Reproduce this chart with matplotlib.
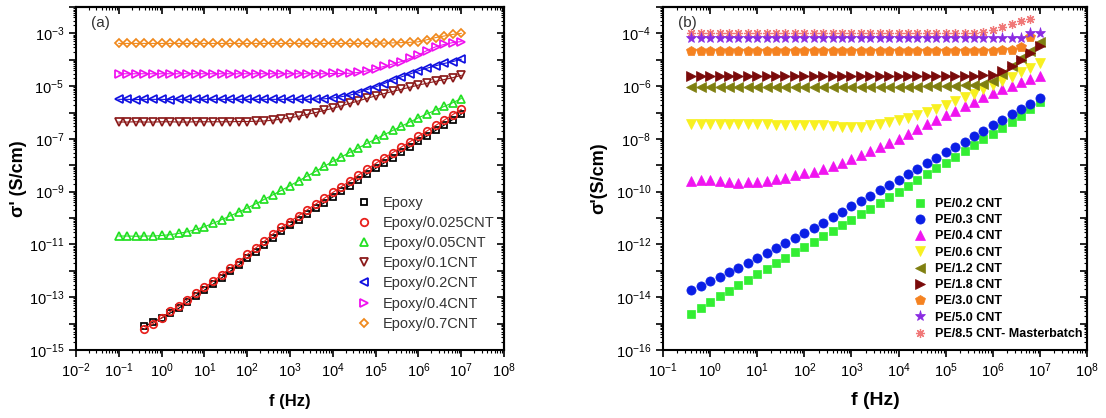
import matplotlib
matplotlib.use("Agg")
import matplotlib.pyplot as plt
from matplotlib.ticker import FixedLocator, FuncFormatter, LogLocator, NullFormatter
from matplotlib.lines import Line2D
import numpy as np

plt.rcParams['font.family'] = ['Liberation Sans', 'DejaVu Sans']
plt.rcParams['mathtext.fontset'] = 'custom'
plt.rcParams['mathtext.rm'] = 'Liberation Sans'
plt.rcParams['mathtext.default'] = 'regular'
plt.rcParams['axes.unicode_minus'] = False

# ---- panel (a): epoxy / CNT, log10 values ----
fa_log = [-1.0, -0.8, -0.6, -0.4, -0.2, 0.0, 0.2, 0.4, 0.6, 0.8,
          1.0, 1.2, 1.4, 1.6, 1.8, 2.0, 2.2, 2.4, 2.6, 2.8,
          3.0, 3.2, 3.4, 3.6, 3.8, 4.0, 4.2, 4.4, 4.6, 4.8,
          5.0, 5.2, 5.4, 5.6, 5.8, 6.0, 6.2, 6.4, 6.6, 6.8, 7.0]
fa_short_log = fa_log[3:]   # epoxy and 0.025CNT start at ~0.4 Hz

epoxy = [-14.10, -13.94, -13.79, -13.60, -13.42, -13.19, -12.95, -12.73, -12.51, -12.27,
         -12.02, -11.78, -11.51, -11.27, -11.02, -10.75, -10.50, -10.28, -10.07, -9.85,
         -9.63, -9.42, -9.20, -8.98, -8.77, -8.55, -8.34, -8.12, -7.91, -7.71,
         -7.50, -7.30, -7.09, -6.89, -6.68, -6.48, -6.27, -6.07]
ep_0025 = [-14.19, -14.00, -13.78, -13.54, -13.34, -13.10, -12.85, -12.63, -12.40, -12.15,
           -11.90, -11.66, -11.38, -11.13, -10.88, -10.60, -10.35, -10.13, -9.91, -9.69,
           -9.47, -9.25, -9.03, -8.81, -8.59, -8.37, -8.15, -7.93, -7.72, -7.52,
           -7.31, -7.11, -6.90, -6.70, -6.49, -6.29, -6.08, -5.88]
ep_005 = [-10.68, -10.68, -10.69, -10.68, -10.68, -10.66, -10.63, -10.58, -10.52, -10.43,
          -10.33, -10.20, -10.06, -9.92, -9.77, -9.62, -9.46, -9.29, -9.12, -8.95,
          -8.77, -8.59, -8.41, -8.23, -8.04, -7.85, -7.68, -7.51, -7.34, -7.17,
          -7.00, -6.84, -6.68, -6.52, -6.36, -6.20, -6.05, -5.91, -5.77, -5.63, -5.47]
ep_01 = [-6.36, -6.36, -6.35, -6.36, -6.36, -6.35, -6.35, -6.36, -6.36, -6.35,
         -6.35, -6.35, -6.35, -6.35, -6.34, -6.34, -6.33, -6.32, -6.29, -6.25,
         -6.20, -6.14, -6.07, -6.00, -5.92, -5.84, -5.75, -5.65, -5.56, -5.46,
         -5.37, -5.28, -5.20, -5.12, -5.04, -4.96, -4.89, -4.82, -4.75, -4.68, -4.59]
ep_02 = [-5.50, -5.50, -5.51, -5.50, -5.50, -5.50, -5.51, -5.50, -5.50, -5.50,
         -5.50, -5.50, -5.50, -5.50, -5.50, -5.50, -5.50, -5.50, -5.50, -5.50,
         -5.50, -5.50, -5.50, -5.49, -5.48, -5.45, -5.40, -5.34, -5.25, -5.13,
         -5.03, -4.90, -4.77, -4.65, -4.54, -4.42, -4.32, -4.23, -4.14, -4.07, -3.98]
ep_04 = [-4.53, -4.53, -4.53, -4.53, -4.53, -4.53, -4.53, -4.53, -4.53, -4.53,
         -4.53, -4.53, -4.53, -4.53, -4.53, -4.53, -4.53, -4.53, -4.53, -4.53,
         -4.53, -4.53, -4.53, -4.53, -4.53, -4.52, -4.52, -4.51, -4.48, -4.42,
         -4.34, -4.25, -4.16, -4.07, -3.95, -3.82, -3.65, -3.51, -3.42, -3.35, -3.31]
ep_07 = [-3.38, -3.38, -3.38, -3.38, -3.38, -3.38, -3.38, -3.38, -3.38, -3.38,
         -3.38, -3.38, -3.38, -3.38, -3.38, -3.38, -3.38, -3.38, -3.38, -3.38,
         -3.38, -3.38, -3.38, -3.38, -3.38, -3.38, -3.38, -3.38, -3.38, -3.38,
         -3.37, -3.37, -3.36, -3.35, -3.34, -3.32, -3.24, -3.16, -3.10, -3.04, -3.00]

# ---- panel (b): PE / CNT ----
fb_log = [-0.4, -0.2, 0.0, 0.2, 0.4, 0.6, 0.8, 1.0, 1.2, 1.4,
          1.6, 1.8, 2.0, 2.2, 2.4, 2.6, 2.8, 3.0, 3.2, 3.4,
          3.6, 3.8, 4.0, 4.2, 4.4, 4.6, 4.8, 5.0, 5.2, 5.4,
          5.6, 5.8, 6.0, 6.2, 6.4, 6.6, 6.8, 7.0]

pe_02 = [-14.65, -14.40, -14.19, -13.97, -13.76, -13.55, -13.34, -13.13, -12.93, -12.72,
         -12.51, -12.30, -12.10, -11.90, -11.69, -11.48, -11.28, -11.07, -10.86, -10.64,
         -10.43, -10.21, -10.00, -9.78, -9.56, -9.34, -9.12, -8.90, -8.68, -8.46,
         -8.24, -8.02, -7.80, -7.57, -7.35, -7.12, -6.88, -6.60]
pe_03 = [-13.73, -13.58, -13.40, -13.24, -13.06, -12.88, -12.69, -12.50, -12.31, -12.13,
         -11.94, -11.75, -11.56, -11.36, -11.17, -10.97, -10.77, -10.56, -10.36, -10.15,
         -9.95, -9.74, -9.54, -9.33, -9.13, -8.92, -8.72, -8.51, -8.31, -8.10,
         -7.90, -7.69, -7.48, -7.27, -7.06, -6.85, -6.66, -6.44]
pe_04 = [-9.60, -9.57, -9.57, -9.60, -9.63, -9.66, -9.65, -9.63, -9.58, -9.53,
         -9.47, -9.38, -9.31, -9.24, -9.15, -9.03, -8.92, -8.76, -8.60, -8.44,
         -8.29, -8.14, -7.99, -7.81, -7.63, -7.45, -7.27, -7.10, -6.93, -6.76,
         -6.59, -6.42, -6.25, -6.11, -5.98, -5.85, -5.73, -5.60]
pe_06 = [-7.42, -7.44, -7.45, -7.45, -7.45, -7.45, -7.45, -7.45, -7.45, -7.46,
         -7.46, -7.46, -7.46, -7.47, -7.48, -7.50, -7.53, -7.55, -7.53, -7.49,
         -7.43, -7.36, -7.28, -7.19, -7.09, -6.97, -6.85, -6.72, -6.58, -6.43,
         -6.28, -6.12, -5.96, -5.80, -5.64, -5.47, -5.30, -5.13]
pe_12 = [-6.03, -6.03, -6.03, -6.03, -6.03, -6.03, -6.03, -6.03, -6.03, -6.03,
         -6.03, -6.03, -6.03, -6.03, -6.03, -6.03, -6.03, -6.03, -6.03, -6.03,
         -6.03, -6.03, -6.02, -6.02, -6.02, -6.01, -6.00, -5.99, -5.98, -5.96,
         -5.95, -5.93, -5.80, -5.55, -5.25, -4.95, -4.65, -4.32]
pe_18 = [-5.60, -5.60, -5.60, -5.60, -5.60, -5.60, -5.60, -5.60, -5.60, -5.60,
         -5.60, -5.60, -5.60, -5.60, -5.60, -5.60, -5.60, -5.60, -5.60, -5.60,
         -5.60, -5.60, -5.60, -5.60, -5.60, -5.60, -5.60, -5.60, -5.60, -5.60,
         -5.60, -5.59, -5.56, -5.44, -5.25, -5.02, -4.76, -4.46]
pe_30 = [-4.65, -4.65, -4.65, -4.65, -4.65, -4.65, -4.65, -4.65, -4.65, -4.65,
         -4.65, -4.65, -4.65, -4.65, -4.65, -4.65, -4.65, -4.65, -4.65, -4.65,
         -4.65, -4.65, -4.65, -4.65, -4.65, -4.65, -4.65, -4.65, -4.65, -4.65,
         -4.65, -4.65, -4.65, -4.64, -4.62, -4.52, -4.13]
pe_50 = [-4.19, -4.19, -4.19, -4.19, -4.19, -4.19, -4.19, -4.19, -4.19, -4.19,
         -4.19, -4.19, -4.19, -4.19, -4.19, -4.19, -4.19, -4.19, -4.19, -4.19,
         -4.19, -4.19, -4.19, -4.19, -4.19, -4.19, -4.19, -4.19, -4.19, -4.19,
         -4.19, -4.19, -4.19, -4.19, -4.19, -4.18, -4.00, -3.99]
pe_85 = [-4.00, -4.00, -4.00, -4.00, -4.00, -4.00, -4.00, -4.00, -4.00, -4.00,
         -4.00, -4.00, -4.00, -4.00, -4.00, -4.00, -4.00, -4.00, -4.00, -4.00,
         -4.00, -4.00, -4.00, -4.00, -4.00, -4.00, -4.00, -4.00, -4.00, -4.00,
         -3.98, -3.95, -3.88, -3.76, -3.63, -3.53, -3.45]

labels_a = ['Epoxy', 'Epoxy/0.025CNT', 'Epoxy/0.05CNT', 'Epoxy/0.1CNT',
            'Epoxy/0.2CNT', 'Epoxy/0.4CNT', 'Epoxy/0.7CNT']
labels_b = ['PE/0.2 CNT', 'PE/0.3 CNT', 'PE/0.4 CNT', 'PE/0.6 CNT', 'PE/1.2 CNT',
            'PE/1.8 CNT', 'PE/3.0 CNT', 'PE/5.0 CNT', 'PE/8.5 CNT- Masterbatch']


def log_axis(ax, xdec, ydec, ylab_odd):
    ax.set_xscale('log')
    ax.set_yscale('log')
    ax.set_xlim(10.0 ** xdec[0], 10.0 ** xdec[1])
    ax.set_ylim(10.0 ** ydec[0], 10.0 ** ydec[1])
    xt = [10.0 ** k for k in range(xdec[0], xdec[1] + 1)]
    yt = [10.0 ** k for k in range(ydec[0], ydec[1] + 1)]
    ax.xaxis.set_major_locator(FixedLocator(xt))
    ax.yaxis.set_major_locator(FixedLocator(yt))
    ax.xaxis.set_minor_locator(LogLocator(base=10, subs=np.arange(2, 10), numticks=100))
    ax.yaxis.set_minor_locator(LogLocator(base=10, subs=np.arange(2, 10), numticks=100))
    ax.xaxis.set_minor_formatter(NullFormatter())
    ax.yaxis.set_minor_formatter(NullFormatter())

    def xfmt(v, pos):
        k = int(round(np.log10(v)))
        return '$\\mathdefault{10^{%d}}$' % k

    def yfmt(v, pos):
        k = int(round(np.log10(v)))
        if (k % 2 != 0) == ylab_odd:
            return '$\\mathdefault{10^{%d}}$' % k
        return ''
    ax.xaxis.set_major_formatter(FuncFormatter(xfmt))
    ax.yaxis.set_major_formatter(FuncFormatter(yfmt))
    ax.tick_params(which='major', direction='out', length=5, width=1.2, labelsize=10.5)
    ax.tick_params(which='minor', direction='out', length=2.5, width=0.8)
    for s in ax.spines.values():
        s.set_linewidth(1.5)
    # inward ticks on top and right
    top = ax.secondary_xaxis('top')
    top.xaxis.set_major_locator(FixedLocator(xt))
    top.xaxis.set_minor_locator(LogLocator(base=10, subs=np.arange(2, 10), numticks=100))
    top.tick_params(which='major', direction='in', length=5, width=1.2, labeltop=False)
    top.tick_params(which='minor', direction='in', length=2.5, width=0.8)
    right = ax.secondary_yaxis('right')
    right.yaxis.set_major_locator(FixedLocator(yt))
    right.yaxis.set_minor_locator(LogLocator(base=10, subs=np.arange(2, 10), numticks=100))
    right.tick_params(which='major', direction='in', length=5, width=1.2, labelright=False)
    right.tick_params(which='minor', direction='in', length=2.5, width=0.8)
    for sec in (top, right):
        for s in sec.spines.values():
            s.set_linewidth(1.5)


fig = plt.figure(figsize=(11.06, 4.18), dpi=100)
ax1 = fig.add_axes([76 / 1106, 68 / 418, 428 / 1106, 343 / 418])
ax2 = fig.add_axes([663 / 1106, 68 / 418, 424 / 1106, 343 / 418])

# ---- (a) ----
fa = [10.0 ** v for v in fa_log]
fa_s = [10.0 ** v for v in fa_short_log]
series_a = [
    (fa_s, epoxy, 's', 'black', 4.5),
    (fa_s, ep_0025, 'o', '#e8201c', 5.4),
    (fa, ep_005, '^', '#22e022', 5.8),
    (fa, ep_01, 'v', '#8b1a1a', 5.8),
    (fa, ep_02, '<', '#1010e0', 5.8),
    (fa, ep_04, '>', '#f010f0', 5.8),
    (fa, ep_07, 'D', '#f0891c', 4.3),
]
handles_a = []
for (x, y, m, c, ms), lab in zip(series_a, labels_a):
    ax1.plot(x, [10.0 ** v for v in y], color=c, lw=0.8, marker=m, ms=ms,
             mfc='none', mec=c, mew=1.25)
    handles_a.append(Line2D([], [], ls='none', marker=m, ms=ms, mfc='none', mec=c, mew=1.3))

log_axis(ax1, (-2, 8), (-15, -2), True)
ax1.set_xlabel('f (Hz)', fontsize=12, fontweight='bold', labelpad=10)
ax1.set_ylabel("σ' (S/cm)", fontsize=13, fontweight='bold', labelpad=1)
ax1.text(0.035, 0.975, '(a)', transform=ax1.transAxes, fontsize=11, va='top', ha='left',
         color='#333333')
ax1.legend(handles_a, labels_a, loc='upper left', bbox_to_anchor=(357 / 1106, 1 - 196 / 418),
           bbox_transform=fig.transFigure, frameon=False, fontsize=10.5, handlelength=1.0,
           handletextpad=0.8, labelspacing=0.42, borderpad=0, borderaxespad=0,
           labelcolor='#333333')

# ---- (b) ----
fb = [10.0 ** v for v in fb_log]
series_b = [
    (pe_85, (8, 2, 0), '#f07878', 6.5),
    (pe_02, 's', '#33ee33', 5.8),
    (pe_03, 'o', '#0a1ee6', 6.6),
    (pe_04, '^', '#f014f0', 7.0),
    (pe_06, 'v', '#f8f020', 7.0),
    (pe_12, '<', '#7f7f10', 7.0),
    (pe_18, '>', '#7a0a0a', 7.0),
    (pe_30, 'p', '#f58220', 7.0),
    (pe_50, '*', '#8a2be2', 8.0),
]
handle_map = {}
for y, m, c, ms in series_b:
    x = fb[:len(y)]
    if m == (8, 2, 0):
        ax2.plot(x, [10.0 ** v for v in y], ls='none', marker=m, ms=ms, mec=c, mew=0.9)
        h = Line2D([], [], ls='none', marker=m, ms=ms, mec=c, mew=0.9)
    else:
        ax2.plot(x, [10.0 ** v for v in y], ls='none', marker=m, ms=ms, mfc=c, mec=c, mew=0.5)
        h = Line2D([], [], ls='none', marker=m, ms=ms, mfc=c, mec=c, mew=0.5)
    handle_map[id(y)] = h
order_b = [pe_02, pe_03, pe_04, pe_06, pe_12, pe_18, pe_30, pe_50, pe_85]
handles_b = [handle_map[id(y)] for y in order_b]

log_axis(ax2, (-1, 8), (-16, -3), False)
ax2.set_xlabel('f (Hz)', fontsize=14, fontweight='bold', labelpad=8)
ax2.set_ylabel("σ'(S/cm)", fontsize=13, fontweight='bold', labelpad=6)
ax2.text(0.035, 0.975, '(b)', transform=ax2.transAxes, fontsize=11, va='top', ha='left',
         color='#333333')
leg = ax2.legend(handles_b, labels_b, loc='upper left', bbox_to_anchor=(914 / 1106, 1 - 198 / 418),
                 bbox_transform=fig.transFigure, frameon=False, handlelength=1.0,
                 handletextpad=0.7, labelspacing=0.34, borderpad=0, borderaxespad=0,
                 prop={'weight': 'bold', 'size': 9.0})

fig.savefig('out.png', dpi=100)
